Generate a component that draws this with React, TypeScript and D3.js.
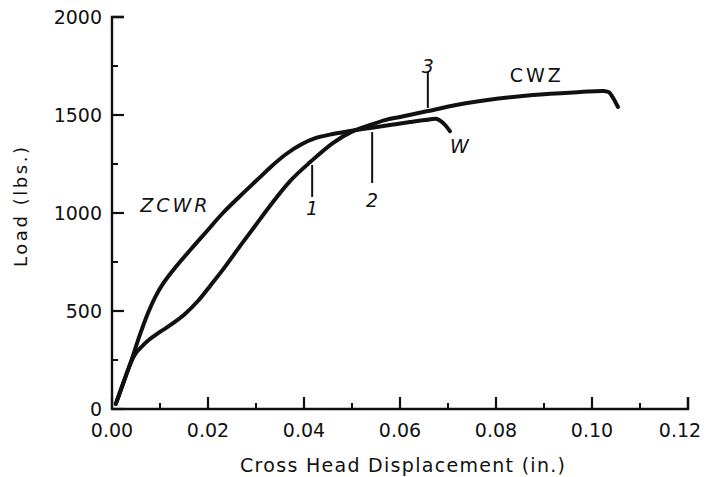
import React from "react";
import * as d3 from "d3";

// Series: concave curve (ZCWR ... ends at W)
const zcwrX = [0.0008, 0.0025, 0.0042, 0.0058, 0.0075, 0.009, 0.0106, 0.0131, 0.0163, 0.0196, 0.0231, 0.0267, 0.0302, 0.0333, 0.0363, 0.0392, 0.0425, 0.046, 0.0496, 0.0538, 0.0579, 0.0621, 0.0652, 0.0677, 0.0685, 0.0694, 0.0704];
const zcwrY = [26, 143, 260, 378, 490, 571, 638, 719, 811, 903, 1000, 1087, 1168, 1240, 1301, 1347, 1383, 1403, 1418, 1434, 1449, 1464, 1474, 1480, 1469, 1449, 1418];

// Series: S-shaped curve (ends at CWZ)
const cwzX = [0.0008, 0.0025, 0.004, 0.005, 0.0063, 0.0079, 0.01, 0.0125, 0.0152, 0.0179, 0.0206, 0.0235, 0.0267, 0.0298, 0.0329, 0.0371, 0.0413, 0.046, 0.0502, 0.0538, 0.0569, 0.06, 0.0658, 0.074, 0.0877, 0.0975, 0.1025, 0.1035, 0.1044, 0.1054];
const cwzY = [26, 143, 240, 286, 321, 357, 393, 434, 485, 551, 633, 724, 832, 934, 1036, 1163, 1260, 1357, 1418, 1449, 1474, 1490, 1520, 1561, 1602, 1617, 1622, 1617, 1587, 1541];

// Marker lines (numbered points)
const markLabels = ["1", "2", "3"];
const markX = [0.0417, 0.0542, 0.0658];
const markTop = [1245, 1413, 1719];
const markBottom = [1082, 1153, 1536];
const markLabelY = [990, 1031, 1714];

// Curve labels
const curveLabels = ["ZCWR", "CWZ", "W"];
const curveLabelX = [0.0132, 0.0885, 0.0727];
const curveLabelY = [1005, 1668, 1306];
const curveLabelItalic = [true, false, true];

// Axis ticks
const xTicks = [0, 0.02, 0.04, 0.06, 0.08, 0.1, 0.12];
const xTickLabels = ["0.00", "0.02", "0.04", "0.06", "0.08", "0.10", "0.12"];
const xMinor = [0.01, 0.03, 0.05, 0.07, 0.09, 0.11];
const yTicks = [0, 500, 1000, 1500, 2000];
const yTickLabels = ["0", "500", "1000", "1500", "2000"];
const yMinor = [250, 750, 1250, 1750];

const W = 708;
const H = 477;
const FONT = "'DejaVu Sans', sans-serif";

export default function App() {
  const x = d3.scaleLinear().domain([0, 0.12]).range([112, 688]);
  const y = d3.scaleLinear().domain([0, 2000]).range([409, 17]);

  const line = d3
    .line<[number, number]>()
    .x((d) => x(d[0]))
    .y((d) => y(d[1]))
    .curve(d3.curveCatmullRom.alpha(0.5));

  const zcwr = zcwrX.map((v, i) => [v, zcwrY[i]] as [number, number]);
  const cwz = cwzX.map((v, i) => [v, cwzY[i]] as [number, number]);

  const x0 = x(0);
  const y0 = y(0);

  return (
    <svg
      width={W}
      height={H}
      style={{ position: "absolute", left: 0, top: 0, background: "#fff" }}
      fontFamily={FONT}
    >
      <rect x={0} y={0} width={W} height={H} fill="#fff" />
      {/* axes */}
      <path
        d={`M${x0 + 12},${y(2000)}H${x0}V${y0}H${x(0.12)}V${y0 - 12}`}
        fill="none"
        stroke="#111"
        strokeWidth={2.4}
      />
      {yTicks.map((t) => (
        <line key={"yt" + t} x1={x0} x2={x0 + 12} y1={y(t)} y2={y(t)} stroke="#111" strokeWidth={2.2} />
      ))}
      {yMinor.map((t) => (
        <line key={"ym" + t} x1={x0} x2={x0 + 6} y1={y(t)} y2={y(t)} stroke="#111" strokeWidth={2} />
      ))}
      {xTicks.map((t) => (
        <line key={"xt" + t} x1={x(t)} x2={x(t)} y1={y0} y2={y0 - 12} stroke="#111" strokeWidth={2.2} />
      ))}
      {xMinor.map((t) => (
        <line key={"xm" + t} x1={x(t)} x2={x(t)} y1={y0} y2={y0 - 6} stroke="#111" strokeWidth={2} />
      ))}
      {yTicks.map((t, i) => (
        <text key={"yl" + t} x={x0 - 10} y={y(t) + 7} textAnchor="end" fontSize={19} fill="#111">
          {yTickLabels[i]}
        </text>
      ))}
      {xTicks.map((t, i) => (
        <text
          key={"xl" + t}
          x={i === xTicks.length - 1 ? x(t) - 8 : x(t)}
          y={437}
          textAnchor="middle"
          fontSize={19}
          fill="#111"
        >
          {xTickLabels[i]}
        </text>
      ))}
      <text x={240} y={472} fontSize={19} fill="#111" textLength={325} lengthAdjust="spacing">
        Cross Head Displacement (in.)
      </text>
      <text
        transform="translate(27,267) rotate(-90)"
        x={0}
        y={0}
        fontSize={18}
        fill="#111"
        textLength={120}
        lengthAdjust="spacing"
      >
        Load (lbs.)
      </text>

      {/* curves */}
      <path d={line(zcwr) || ""} fill="none" stroke="#111" strokeWidth={4} strokeLinecap="round" strokeLinejoin="round" />
      <path d={line(cwz) || ""} fill="none" stroke="#111" strokeWidth={4} strokeLinecap="round" strokeLinejoin="round" />

      {/* markers */}
      {markLabels.map((m, i) => (
        <g key={"mk" + m}>
          <line x1={x(markX[i])} x2={x(markX[i])} y1={y(markTop[i])} y2={y(markBottom[i])} stroke="#111" strokeWidth={2} />
          <text x={x(markX[i])} y={y(markLabelY[i])} textAnchor="middle" fontSize={19} fontStyle="italic" fill="#111">
            {m}
          </text>
        </g>
      ))}
      {curveLabels.map((c, i) => (
        <text
          key={"cl" + c}
          x={x(curveLabelX[i])}
          y={y(curveLabelY[i])}
          textAnchor="middle"
          fontSize={19}
          fontStyle={curveLabelItalic[i] ? "italic" : "normal"}
          letterSpacing={3}
          fill="#111"
        >
          {c}
        </text>
      ))}
    </svg>
  );
}
